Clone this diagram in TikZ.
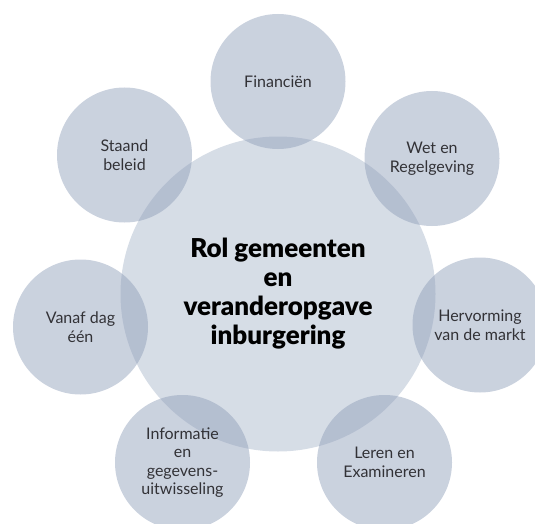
\documentclass[tikz,border=0pt]{standalone}
\usepackage{fontspec}
\setmainfont{Lato}
\newfontfamily\heavyfont{Lato Black}
\definecolor{centerfill}{RGB}{214,221,230}
\definecolor{satfill}{RGB}{140,156,184}
\definecolor{sattext}{RGB}{50,50,54}
\begin{document}
\begin{tikzpicture}[x=1pt,y=-1pt,
  sat/.style={circle, inner sep=0pt, minimum size=135pt, fill=satfill, fill opacity=0.46, text opacity=1,
    text=sattext, align=center, font=\fontsize{16}{18.5}\selectfont},
  hub/.style={circle, inner sep=0pt, minimum size=315pt, fill=centerfill, align=center,
    font=\heavyfont\fontsize{26}{29}\selectfont}]
\useasboundingbox (0,0) rectangle (535,524);
\clip (0,0) rectangle (535,524);
\node[hub] (hub) at (278,294) {Rol gemeenten\\en\\veranderopgave\\inburgering};
\node[sat] (fin) at (278,81.5) {Financiën};
\node[sat] (wet) at (432,158.5) {Wet en\\Regelgeving};
\node[sat] (her) at (480,325) {Hervorming\\van de markt};
\node[sat] (ler) at (384.5,462.5) {Leren en\\Examineren};
\node[sat] (inf) at (182.5,462.5) {Informatie\\en\\gegevens-\\uitwisseling};
\node[sat] (van) at (80.5,327) {Vanaf dag\\één};
\node[sat] (sta) at (124.5,155) {Staand\\beleid};
\end{tikzpicture}
\end{document}
